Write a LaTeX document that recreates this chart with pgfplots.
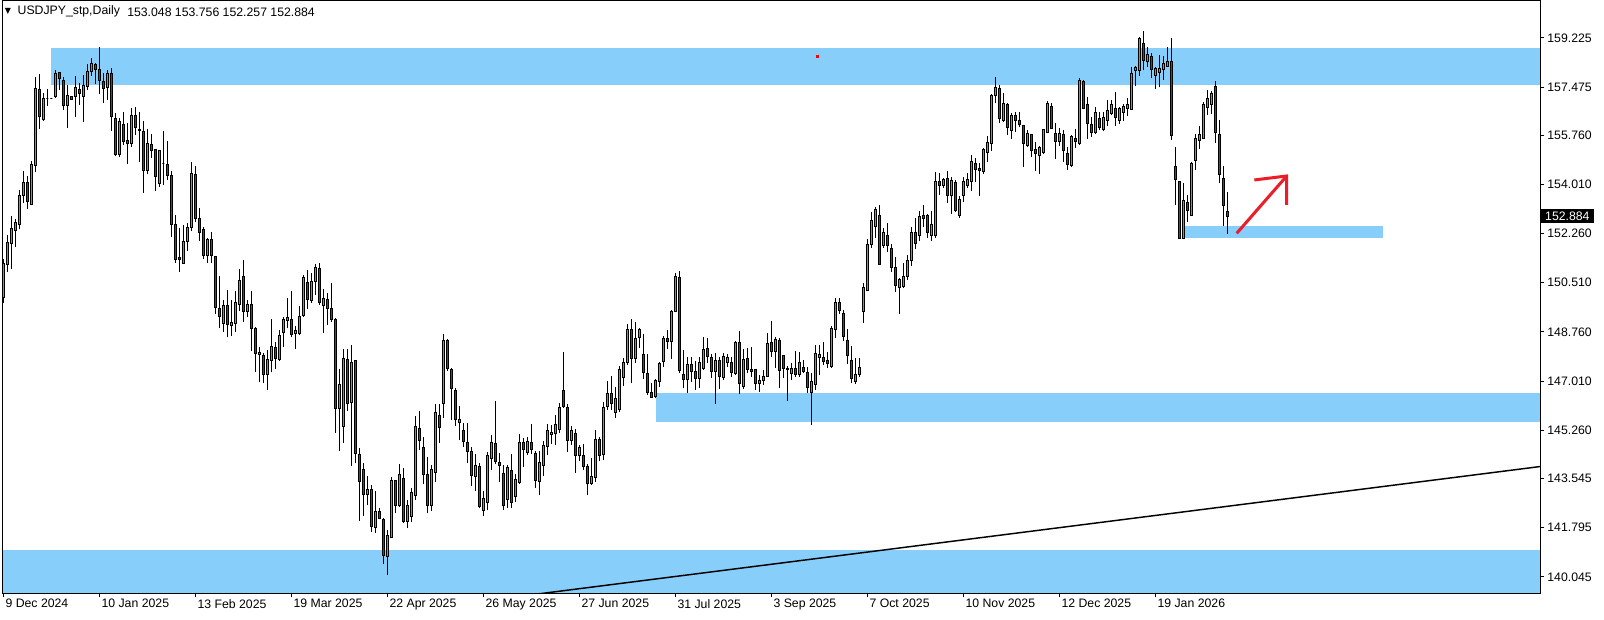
\documentclass[border=0pt]{standalone}
\usepackage{pgfplots}
\pgfplotsset{compat=1.18}
\usepackage{pgfplotstable}
\usepackage{fontspec}
\setmainfont{Liberation Sans}
\newfontfamily\dejavu{DejaVu Sans}
\definecolor{bull}{RGB}{40,210,40}
\definecolor{bear}{RGB}{210,20,20}
\definecolor{zone}{RGB}{135,206,250}
\definecolor{arrowred}{RGB}{235,30,40}
\pgfdeclareplotmark{blank}{}

\pgfplotstableread{
i o h l c
0 149.99 151.34 149.78 151.18
1 151.17 152.21 150.91 151.95
2 151.91 152.89 151.01 152.45
3 152.36 152.78 151.80 152.64
4 152.58 153.81 152.41 153.62
5 153.62 154.49 153.34 154.09
6 154.09 154.31 153.15 153.40
7 153.29 154.86 153.29 154.73
8 154.68 157.83 154.44 157.43
9 157.39 157.94 155.97 156.42
10 156.31 157.25 156.28 157.07
11 157.07 157.39 156.80 157.07
12 157.07 157.10 157.04 157.07
13 157.13 158.08 157.07 157.96
14 158.00 158.02 157.37 157.77
15 157.71 157.85 156.66 156.83
16 156.83 157.55 156.03 157.18
17 157.15 157.16 157.02 157.04
18 157.15 157.87 156.42 157.45
19 157.39 157.61 156.84 157.24
20 157.13 157.90 156.24 157.52
21 157.51 158.30 157.37 158.03
22 158.03 158.50 157.88 158.32
23 158.26 158.32 157.57 158.09
24 158.11 158.91 157.22 157.71
25 157.68 157.99 156.90 157.43
26 157.47 158.08 157.02 157.96
27 157.94 158.15 155.92 156.42
28 156.36 156.54 155.02 155.06
29 155.08 156.39 154.97 156.24
30 156.15 156.59 155.41 155.53
31 155.59 156.18 154.74 155.45
32 155.47 156.72 155.35 156.48
33 156.48 156.75 155.76 156.04
34 155.98 156.58 154.82 155.92
35 155.91 156.27 153.72 154.50
36 154.50 155.98 154.38 155.47
37 155.44 155.81 154.94 155.21
38 155.24 155.27 153.79 154.29
39 154.05 155.24 153.91 155.20
40 154.76 155.91 153.99 154.76
41 154.73 155.56 154.17 154.32
42 154.33 154.49 152.13 152.59
43 152.59 152.92 151.23 151.35
44 151.42 152.45 150.91 151.35
45 151.20 152.57 151.18 151.97
46 151.97 152.63 151.64 152.48
47 152.48 154.81 152.35 154.41
48 154.37 154.65 152.69 152.79
49 152.80 153.17 152.01 152.29
50 152.41 152.51 151.35 151.48
51 151.48 152.09 151.23 152.06
52 152.06 152.31 151.23 151.48
53 151.46 151.46 149.39 149.64
54 149.60 150.75 148.91 149.30
55 149.07 149.90 148.76 149.71
56 149.71 150.25 148.57 149.03
57 148.98 149.90 148.62 149.10
58 149.07 150.20 148.76 149.82
59 149.74 151.00 149.52 150.60
60 150.73 151.31 149.10 149.48
61 149.48 149.90 149.30 149.74
62 149.74 150.23 148.09 148.89
63 148.89 148.95 147.35 148.00
64 147.96 148.24 146.97 148.03
65 147.91 148.02 146.93 147.25
66 147.25 148.12 146.70 147.79
67 147.75 149.22 147.32 148.24
68 148.21 148.42 147.44 147.82
69 147.79 148.83 147.74 148.65
70 148.74 149.30 148.24 149.21
71 149.16 149.96 148.89 149.28
72 149.21 150.20 148.57 148.68
73 148.71 148.97 148.15 148.80
74 148.71 149.68 148.65 149.30
75 149.33 150.79 149.30 150.70
76 150.53 150.97 149.57 149.92
77 149.87 150.85 149.80 150.55
78 150.55 151.18 150.08 151.06
79 151.02 151.20 149.72 149.80
80 149.70 150.28 148.71 149.96
81 149.92 150.14 149.01 149.59
82 149.60 150.49 149.13 149.21
83 149.21 149.25 145.18 146.04
84 146.04 147.44 144.54 146.90
85 145.41 148.15 144.82 147.82
86 147.79 148.15 145.96 146.22
87 146.24 148.30 144.00 147.68
88 147.74 147.76 144.09 144.44
89 144.41 144.62 142.05 143.43
90 143.87 144.09 142.22 142.98
91 142.98 143.63 142.60 143.14
92 143.16 143.31 141.65 141.83
93 141.81 143.11 141.62 142.37
94 142.37 142.51 142.09 142.13
95 142.07 142.13 140.49 140.80
96 140.76 141.71 140.11 141.51
97 141.45 143.59 141.45 143.46
98 143.46 143.49 142.30 142.58
99 142.57 144.05 142.54 143.69
100 143.55 143.91 141.97 142.01
101 142.00 142.78 141.80 142.60
102 142.20 143.19 142.00 143.05
103 142.93 145.77 142.78 145.41
104 145.33 145.95 144.56 144.89
105 144.65 145.01 143.34 143.69
106 143.69 144.32 142.30 142.60
107 142.60 144.03 142.40 143.85
108 143.76 146.20 143.43 145.90
109 145.78 146.20 144.82 145.37
110 146.22 148.69 145.71 148.47
111 148.47 148.50 147.38 147.47
112 147.43 147.47 145.63 146.75
113 146.66 146.75 145.41 145.66
114 145.54 146.13 144.92 145.66
115 145.24 145.51 144.68 144.86
116 144.83 145.53 144.11 144.50
117 144.52 144.68 143.29 143.65
118 143.61 144.40 143.11 144.01
119 143.97 144.11 142.48 142.54
120 142.40 143.10 142.20 142.84
121 142.69 144.50 142.42 144.35
122 144.26 145.09 143.85 144.83
123 144.80 146.30 144.06 144.14
124 144.12 144.44 143.43 144.00
125 143.73 144.03 142.42 142.60
126 142.80 144.03 142.50 143.94
127 143.84 144.42 142.50 142.70
128 142.90 143.71 142.70 143.52
129 143.41 145.13 143.35 144.83
130 144.83 144.97 143.97 144.58
131 144.48 145.01 144.38 144.86
132 144.83 145.47 144.42 144.58
133 144.44 144.52 143.20 143.49
134 143.43 144.54 142.96 144.12
135 143.99 144.89 143.65 144.73
136 144.70 145.47 144.38 145.27
137 145.12 145.45 144.77 145.19
138 145.13 145.81 144.74 145.47
139 145.30 146.22 145.15 146.08
140 146.68 148.04 146.04 146.10
141 146.08 146.20 144.50 144.89
142 144.89 145.43 144.74 145.27
143 145.15 145.30 143.75 144.36
144 144.36 144.74 144.18 144.65
145 144.35 144.76 143.85 143.97
146 143.97 144.06 142.96 143.35
147 143.35 144.29 143.31 143.63
148 143.57 145.27 143.43 144.92
149 144.92 145.01 144.18 144.38
150 144.40 146.28 144.20 146.08
151 146.10 147.02 146.00 146.58
152 146.58 147.19 146.00 146.20
153 145.90 146.81 145.70 146.40
154 146.00 147.55 145.90 147.44
155 147.15 147.82 146.84 147.68
156 147.68 149.03 147.58 148.85
157 148.83 149.22 146.93 147.82
158 147.82 149.13 147.64 148.53
159 148.56 148.89 148.18 148.83
160 147.94 148.69 147.07 147.32
161 147.29 147.96 146.52 146.60
162 146.61 146.96 146.40 146.42
163 146.46 147.07 146.42 147.02
164 146.99 147.68 146.81 147.64
165 147.70 148.62 147.53 148.51
166 148.51 148.83 148.14 148.41
167 148.41 149.54 147.80 149.50
168 149.48 150.87 149.46 150.75
169 150.70 150.93 147.29 147.38
170 147.23 148.12 146.75 147.07
171 147.07 147.88 146.60 147.61
172 147.61 147.88 146.99 147.35
173 147.37 147.74 146.70 147.11
174 147.11 147.88 146.75 147.68
175 147.46 148.57 147.40 148.14
176 148.18 148.53 147.64 147.88
177 147.85 147.96 147.11 147.35
178 147.35 148.00 146.20 147.76
179 147.76 147.88 146.73 147.17
180 147.13 148.02 147.05 147.90
181 147.67 147.96 147.53 147.85
182 147.68 147.86 147.17 147.31
183 147.29 148.44 147.23 148.38
184 148.38 148.81 146.55 146.93
185 146.81 148.14 146.72 147.79
186 147.80 148.20 147.29 147.41
187 147.41 148.21 147.17 147.35
188 147.41 147.43 146.69 146.93
189 146.93 147.23 146.64 147.05
190 147.05 147.41 146.87 147.19
191 147.19 148.71 147.17 148.36
192 148.38 149.15 147.88 148.06
193 148.06 148.59 147.47 148.50
194 148.44 148.53 146.75 147.38
195 147.91 147.94 147.11 147.47
196 147.47 147.55 146.32 147.43
197 147.29 147.64 147.05 147.47
198 147.47 148.08 147.17 147.23
199 147.23 148.06 147.17 147.68
200 147.49 147.76 147.29 147.35
201 147.32 147.52 146.60 146.80
202 146.60 147.30 145.45 147.00
203 146.90 148.30 146.70 148.00
204 147.84 148.30 147.23 147.96
205 147.86 148.42 147.58 147.70
206 147.73 148.06 147.47 147.62
207 147.52 148.97 147.49 148.89
208 148.85 149.96 148.56 149.81
209 149.81 149.96 149.40 149.54
210 149.42 149.54 148.45 148.59
211 148.45 148.85 147.61 147.92
212 147.73 148.26 146.95 147.10
213 147.00 147.85 146.90 147.25
214 147.23 147.82 147.17 147.50
215 149.48 150.49 149.07 150.34
216 150.23 152.06 150.22 151.88
217 151.88 153.02 151.74 152.71
218 152.51 153.22 152.12 153.10
219 152.92 153.28 151.14 151.17
220 151.83 152.45 151.74 152.30
221 152.18 152.63 151.59 151.83
222 151.74 151.88 150.91 151.06
223 151.06 151.42 150.19 150.41
224 150.35 150.67 149.39 150.63
225 150.37 151.20 150.31 150.75
226 150.75 151.50 150.60 151.30
227 151.30 152.50 151.10 152.30
228 152.30 152.80 151.70 151.90
229 152.20 153.06 152.00 152.86
230 152.89 153.28 152.50 152.80
231 152.89 152.95 152.10 152.30
232 152.20 153.06 152.00 152.60
233 152.20 154.45 152.10 154.13
234 154.13 154.41 153.63 153.97
235 153.97 154.25 153.90 154.20
236 154.23 154.49 153.36 153.63
237 153.63 154.29 152.95 154.14
238 154.08 154.17 153.04 153.08
239 152.92 153.60 152.80 153.46
240 153.63 154.29 153.40 154.13
241 153.97 154.41 153.87 154.17
242 154.11 155.06 153.79 154.82
243 154.76 154.94 154.11 154.55
244 154.56 154.76 153.60 154.50
245 154.47 155.30 154.38 155.27
246 155.15 155.73 154.82 155.51
247 155.47 157.22 155.21 157.16
248 157.16 157.85 156.90 157.47
249 157.43 157.55 156.18 156.36
250 156.30 157.25 156.24 156.90
251 156.84 156.90 155.77 156.04
252 155.92 156.54 155.63 156.45
253 156.48 156.60 155.89 156.28
254 156.27 156.58 156.07 156.15
255 156.09 156.13 154.64 155.45
256 155.39 155.95 155.33 155.81
257 155.77 155.81 155.00 155.21
258 155.24 155.51 154.50 155.12
259 155.03 155.39 154.38 155.33
260 155.15 155.97 155.09 155.95
261 155.86 156.98 155.83 156.90
262 156.80 156.92 155.98 156.01
263 155.83 156.19 154.92 155.53
264 155.53 156.01 155.38 155.83
265 155.79 155.95 154.82 155.21
266 155.12 155.33 154.52 154.73
267 154.70 155.77 154.64 155.73
268 155.63 155.98 155.30 155.53
269 155.47 157.79 155.41 157.70
270 157.69 157.73 156.68 156.72
271 156.84 157.11 155.63 156.19
272 156.16 156.42 155.69 155.86
273 155.86 156.75 155.80 156.56
274 156.36 156.58 155.95 156.03
275 155.97 156.57 155.91 156.40
276 156.28 157.00 156.10 156.64
277 156.52 157.00 156.47 156.85
278 156.71 157.29 156.10 156.40
279 156.28 156.77 156.17 156.71
280 156.58 156.87 156.28 156.77
281 156.71 157.09 156.46 156.87
282 156.67 158.18 156.67 157.94
283 158.06 158.24 157.52 158.18
284 158.06 159.24 157.88 159.19
285 159.01 159.46 158.09 158.41
286 158.39 158.90 158.18 158.65
287 158.57 158.69 157.80 158.09
288 157.88 158.19 157.42 158.15
289 158.00 158.60 157.46 158.13
290 158.09 158.57 157.74 158.33
291 158.19 158.90 158.19 158.39
292 158.37 159.22 155.60 155.76
293 154.65 155.34 153.29 154.18
294 154.10 154.12 152.08 152.10
295 152.08 154.06 152.08 153.44
296 153.35 153.65 152.67 153.08
297 152.90 154.80 152.88 154.77
298 154.87 155.80 154.54 155.63
299 155.58 156.10 155.28 155.80
300 155.64 156.94 155.64 156.87
301 156.73 157.38 156.47 157.06
302 156.87 157.32 156.52 157.23
303 157.51 157.69 155.50 155.87
304 155.79 156.30 154.05 154.37
305 154.23 154.67 152.54 153.26
306 153.048 153.756 152.257 152.884
}\candles

\begin{document}
\begin{tikzpicture}
\begin{scope}[x=0.75pt,y=-0.75pt,shift={(-2.5,-593)}]
  \fill[white] (0,0) rectangle (1604,619);
\end{scope}
\begin{axis}[
  x=3pt, y=21.075pt,
  xmin=-0.2, xmax=384.2,
  ymin=139.47, ymax=160.538,
  axis line style={black, line width=0.75pt},
  tick style={black, line width=0.75pt},
  major tick length=3pt,
  tick align=outside,
  xtick pos=bottom,
  ytick pos=right, yticklabel pos=right,
  xtick={0,24,...,288},
  xticklabels={9 Dec 2024,10 Jan 2025,13 Feb 2025,19 Mar 2025,22 Apr 2025,26 May 2025,27 Jun 2025,31 Jul 2025,3 Sep 2025,7 Oct 2025,10 Nov 2025,12 Dec 2025,19 Jan 2026},
  ytick={140.045,141.795,143.545,145.260,147.010,148.760,150.510,152.260,154.010,155.760,157.475,159.225},
  yticklabels={140.045,141.795,143.545,145.260,147.010,148.760,150.510,152.260,154.010,155.760,157.475,159.225},
  tick label style={font=\fontsize{9.2}{11}\selectfont, inner sep=0pt},
  xticklabel style={anchor=north west, xshift=1.5pt, yshift=-1.5pt},
  yticklabel style={anchor=west, xshift=2.25pt},
  extra y ticks={152.884},
  extra y tick labels={152.884},
  extra y tick style={major tick length=0pt,
    yticklabel style={fill=black, text=white, minimum height=10.7pt, minimum width=40.5pt, anchor=west, xshift=-2.25pt}},
  axis on top,
]
% zones
\addplot[fill=zone, draw=none] coordinates {(11.85,157.56) (390,157.56) (390,158.866) (11.85,158.866)} -- cycle;
\addplot[fill=zone, draw=none] coordinates {(295.2,152.11) (344.9,152.11) (344.9,152.54) (295.2,152.54)} -- cycle;
\addplot[fill=zone, draw=none] coordinates {(163.2,145.54) (390,145.54) (390,146.60) (163.2,146.60)} -- cycle;
\addplot[fill=zone, draw=none] coordinates {(-5,139.0) (390,139.0) (390,141.00) (-5,141.00)} -- cycle;
% trend line
\addplot[black, line width=1.1pt] coordinates {(130,139.37) (390,144.075)};
% candles
\addplot[only marks, scatter, mark=blank,
  visualization depends on={\thisrow{o}-\thisrow{c}\as\vdo},
  visualization depends on={\thisrow{h}-\thisrow{c}\as\vdh},
  visualization depends on={\thisrow{l}-\thisrow{c}\as\vdl},
  scatter/@pre marker code/.code={%
    \pgfmathsetmacro\dO{\vdo*21.075}%
    \pgfmathsetmacro\dH{\vdh*21.075}%
    \pgfmathsetmacro\dL{\vdl*21.075}%
    \ifdim\dO pt>0pt\def\candlecol{bear}\else\def\candlecol{bull}\fi
    \draw[black, line width=0.75pt] (0pt,\dL pt) -- (0pt,\dH pt);%
    \filldraw[fill=\candlecol, draw=black, line width=0.75pt] (-0.75pt,0pt) rectangle (0.75pt,\dO pt);%
  },
  scatter/@post marker code/.code={},
] table[x=i, y=c] {\candles};
% red dot
\addplot[only marks, mark=square*, mark size=0.9pt, red] coordinates {(203.5,158.57)};
% red arrow (shaft and barbs)
\addplot[arrowred, line width=2.25pt] coordinates {(308.35,152.27) (320.85,154.31)};
\addplot[arrowred, line width=2.25pt] coordinates {(312.75,154.168) (320.85,154.31) (320.85,153.28)};
\end{axis}
\begin{scope}[x=0.75pt,y=-0.75pt,shift={(-2.5,-593)}]
  \node[anchor=west, inner sep=0pt, font=\dejavu\fontsize{6}{7}\selectfont] at (4.5,11.5) {▼};
  \node[anchor=west, inner sep=0pt, font=\fontsize{9.2}{11}\selectfont] at (17.4,11.8) {USDJPY\_stp,Daily};
  \node[anchor=west, inner sep=0pt, font=\fontsize{9.2}{11}\selectfont] at (127,11.8) {153.048 153.756 152.257 152.884};
\end{scope}
\end{tikzpicture}
\end{document}
